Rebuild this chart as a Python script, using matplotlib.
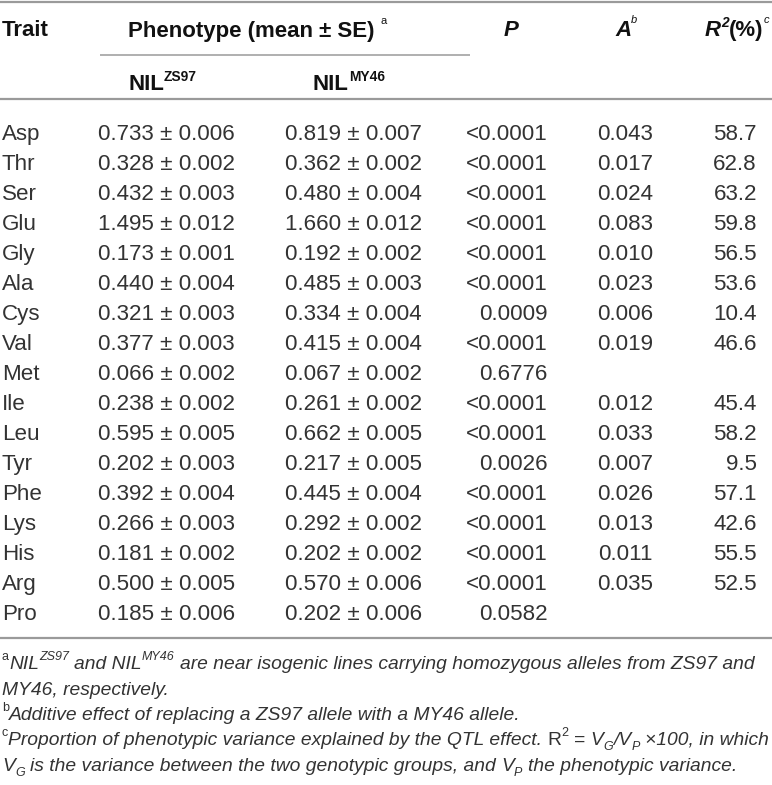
import matplotlib
matplotlib.use('Agg')
import matplotlib.pyplot as plt
from matplotlib.font_manager import FontProperties, findfont

W, H, DPI = 772, 785, 100

traits = ["Asp", "Thr", "Ser", "Glu", "Gly", "Ala", "Cys", "Val", "Met",
          "Ile", "Leu", "Tyr", "Phe", "Lys", "His", "Arg", "Pro"]
zs97_mean = [0.733, 0.328, 0.432, 1.495, 0.173, 0.440, 0.321, 0.377, 0.066,
             0.238, 0.595, 0.202, 0.392, 0.266, 0.181, 0.500, 0.185]
zs97_se = [0.006, 0.002, 0.003, 0.012, 0.001, 0.004, 0.003, 0.003, 0.002,
           0.002, 0.005, 0.003, 0.004, 0.003, 0.002, 0.005, 0.006]
my46_mean = [0.819, 0.362, 0.480, 1.660, 0.192, 0.485, 0.334, 0.415, 0.067,
             0.261, 0.662, 0.217, 0.445, 0.292, 0.202, 0.570, 0.202]
my46_se = [0.007, 0.002, 0.004, 0.012, 0.002, 0.003, 0.004, 0.004, 0.002,
           0.002, 0.005, 0.005, 0.004, 0.002, 0.002, 0.006, 0.006]
p_values = ["<0.0001", "<0.0001", "<0.0001", "<0.0001", "<0.0001", "<0.0001",
            "0.0009", "<0.0001", "0.6776", "<0.0001", "<0.0001", "0.0026",
            "<0.0001", "<0.0001", "<0.0001", "<0.0001", "0.0582"]
additive = [0.043, 0.017, 0.024, 0.083, 0.010, 0.023, 0.006, 0.019, None,
            0.012, 0.033, 0.007, 0.026, 0.013, 0.011, 0.035, None]
r2_pct = [58.7, 62.8, 63.2, 59.8, 56.5, 53.6, 10.4, 46.6, None,
          45.4, 58.2, 9.5, 57.1, 42.6, 55.5, 52.5, None]

fig = plt.figure(figsize=(W / DPI, H / DPI), dpi=DPI)
ax = fig.add_axes([0, 0, 1, 1])
ax.set_xlim(0, W)
ax.set_ylim(H, 0)
ax.axis('off')
fig.canvas.draw()
R = fig.canvas.get_renderer()


def has_font(name):
    try:
        findfont(FontProperties(family=name), fallback_to_default=False)
        return True
    except Exception:
        return False


BASE = 'Liberation Sans'
NARROW = 'Liberation Sans Narrow' if has_font('Liberation Sans Narrow') else BASE


def fp(size, family=BASE, weight='normal', style='normal'):
    return FontProperties(family=family, size=size, weight=weight, style=style)


def measure(s, prop):
    t = ax.text(0, 100, s, fontproperties=prop)
    w = t.get_window_extent(R).width
    t.remove()
    return w


def adv(s, prop):
    return measure('|' + s + '|', prop) - measure('||', prop)


def seg_width(segs):
    return sum(adv(s, p) for s, p, _ in segs)


def draw_segments(x, yc, segs, color='#1a1a1a', ha='left'):
    total = seg_width(segs)
    if ha == 'right':
        x -= total
    elif ha == 'center':
        x -= total / 2
    main = segs[0][1] if segs[0][2] == 0 else segs[1][1]
    msz = main.get_size_in_points() * DPI / 72
    base_main = yc + 0.716 * msz / 2
    for s, p, dy in segs:
        st = s.strip(' ')
        lead = len(s) - len(s.lstrip(' '))
        trail = len(s) - len(s.rstrip(' '))
        if lead:
            x += adv(' ' * lead, p)
        by = base_main + dy * msz
        if st:
            ax.text(x, by, st, fontproperties=p, color=color,
                    ha='left', va='baseline')
            x += adv(st, p)
        if trail and st:
            x += adv(' ' * trail, p)
    return x


# ---- font sizes fitted to reference widths
data_size = 10 * 137 / adv("0.733 \u00b1 0.006", fp(10))
head_size = 10 * 247 / adv("Phenotype (mean \u00b1 SE)", fp(10, weight='bold'))


def foot_fonts(sz):
    return dict(
        i=fp(sz, family=NARROW, style='italic'),
        r=fp(sz, family=NARROW),
        si=fp(sz * 0.65, family=NARROW, style='italic'),
        sr=fp(sz * 0.65, family=NARROW),
    )


UP, DN = -0.45, 0.25


def foot_lines(sz):
    f = foot_fonts(sz)
    return [
        [("a", f['sr'], UP), ("NIL", f['i'], 0), ("ZS97", f['si'], UP),
         (" and NIL", f['i'], 0), ("MY46", f['si'], UP),
         (" are near isogenic lines carrying homozygous alleles from ZS97 and", f['i'], 0)],
        [("MY46, respectively.", f['i'], 0)],
        [("b", f['sr'], UP),
         ("Additive effect of replacing a ZS97 allele with a MY46 allele.", f['i'], 0)],
        [("c", f['sr'], UP),
         ("Proportion of phenotypic variance explained by the QTL effect. ", f['i'], 0),
         ("R", f['r'], 0), ("2", f['sr'], UP), (" = ", f['r'], 0),
         ("V", f['i'], 0), ("G", f['si'], DN), ("/V", f['i'], 0), ("P", f['si'], DN),
         (" \u00d7100, in which", f['i'], 0)],
        [("V", f['i'], 0), ("G", f['si'], DN),
         (" is the variance between the two genotypic groups, and ", f['i'], 0),
         ("V", f['i'], 0), ("P", f['si'], DN), (" the phenotypic variance.", f['i'], 0)],
    ]


ref = foot_lines(10)
foot_size = min(10 * 765 / seg_width(ref[0]), 10 * 766 / seg_width(ref[3]))

dfp = fp(data_size)
hb = fp(head_size, weight='bold')
hbi = fp(head_size, weight='bold', style='italic')
hsup = fp(head_size * 0.62, weight='bold')
hsup_bi = fp(head_size * 0.62, weight='bold', style='italic')
hsup_s = fp(head_size * 0.5)
hsup_si = fp(head_size * 0.5, style='italic')

line_col = '#9a9a9a'
for y, x0, x1, lw in [(1.5, 0, W, 1.6), (99, 0, W, 1.6), (638, 0, W, 1.6),
                      (55, 100, 470, 1.1)]:
    ax.plot([x0, x1], [y, y], color=line_col, lw=lw, solid_capstyle='butt')

hc = '#111111'
draw_segments(2, 28.5, [("Trait", hb, 0)], color=hc)
draw_segments(128, 29.5, [("Phenotype (mean \u00b1 SE) ", hb, 0),
                          ("a", hsup_s, -0.62)], color=hc)
draw_segments(511, 28.5, [("P", hbi, 0)], color=hc, ha='center')
draw_segments(615, 28.5, [("A", hbi, 0), ("b", hsup_si, -0.62)], color=hc)
draw_segments(705, 28.5, [("R", hbi, 0), ("2", hsup_bi, -0.42),
                          ("(%)", hb, 0), ("c", hsup_si, -0.62)], color=hc)
draw_segments(128, 82, [("NIL", hb, 0), ("ZS97", hsup, -0.42)], color=hc)
draw_segments(313, 82, [("NIL", hb, 0), ("MY46", hsup, -0.42)], color=hc)

dc = '#333333'
for i, tr in enumerate(traits):
    yc = 132 + 30 * i
    draw_segments(2, yc, [(tr, dfp, 0)], color=dc)
    draw_segments(98, yc, [(f"{zs97_mean[i]:.3f} \u00b1 {zs97_se[i]:.3f}", dfp, 0)], color=dc)
    draw_segments(285, yc, [(f"{my46_mean[i]:.3f} \u00b1 {my46_se[i]:.3f}", dfp, 0)], color=dc)
    draw_segments(548, yc, [(p_values[i], dfp, 0)], color=dc, ha='right')
    if additive[i] is not None:
        draw_segments(653, yc, [(f"{additive[i]:.3f}", dfp, 0)], color=dc, ha='right')
    if r2_pct[i] is not None:
        draw_segments(757, yc, [(f"{r2_pct[i]:.1f}", dfp, 0)], color=dc, ha='right')

for yc, segs in zip([662, 688, 713, 738, 764], foot_lines(foot_size)):
    draw_segments(2, yc, segs, color=dc)

fig.savefig('out.png', dpi=DPI)
